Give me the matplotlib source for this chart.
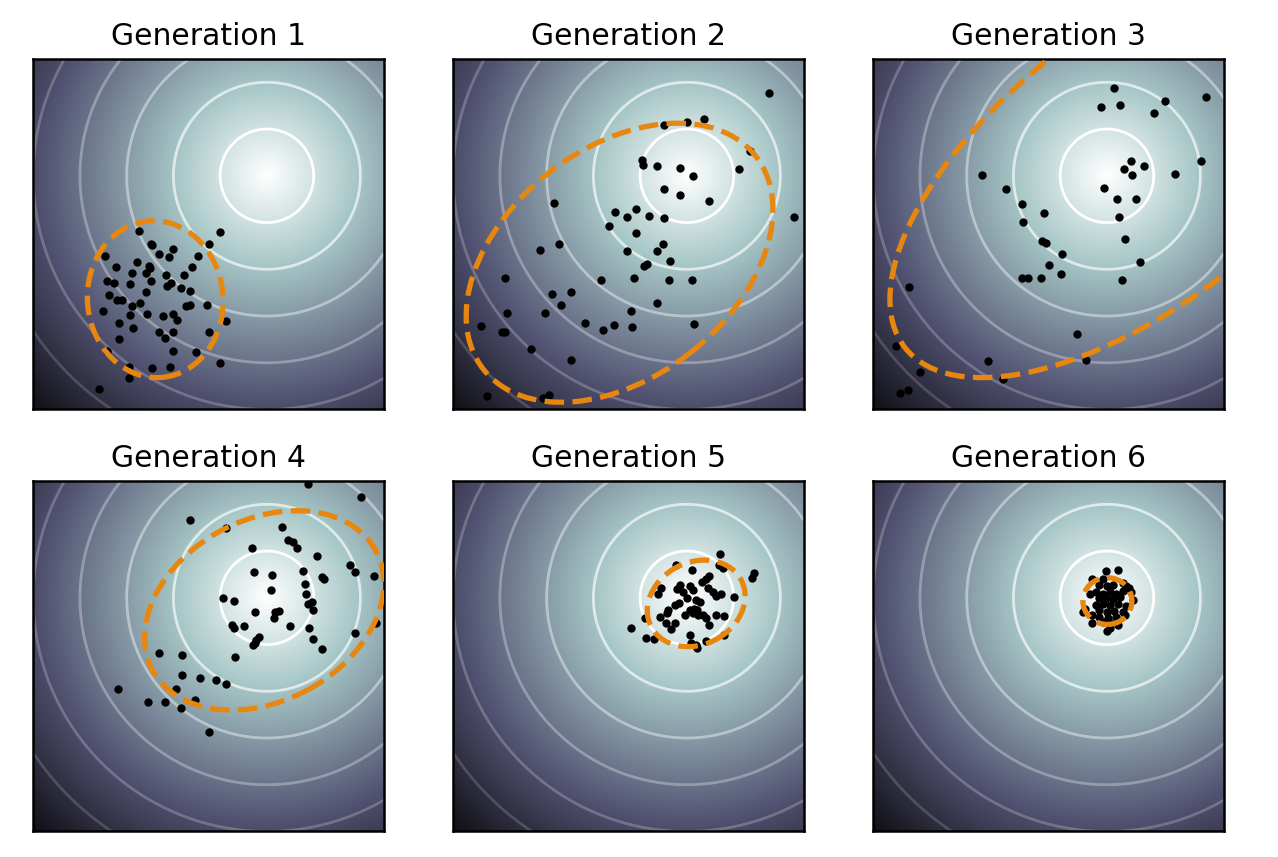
import numpy as np
import matplotlib
matplotlib.use("Agg")
import matplotlib.pyplot as plt
from matplotlib.patches import Ellipse

titles = ["Generation 1", "Generation 2", "Generation 3",
          "Generation 4", "Generation 5", "Generation 6"]

gen1_x = [-2.73, -1.01, -2.49, -2.45, -2.02, -2.30, -2.09, -1.24, -1.48, -3.46, -2.77, -3.24, -2.52, -2.50,
          -1.60, -2.89, -2.59, -2.17, -1.77, -3.43, -3.27, -2.92, -2.49, -2.05, -2.13, -1.84, -1.64, -2.59,
          -3.37, -3.20, -3.11, -2.72, -2.89, -1.73, -1.65, -1.29, -3.51, -2.93, -2.57, -2.22, -2.00, -1.93,
          -0.87, -3.16, -2.87, -2.31, -2.00, -2.19, -1.24, -3.16, -2.02, -1.51, -3.43, -1.01, -2.96, -2.45,
          -2.08, -2.96, -3.60]
gen1_y = [-1.19, -1.21, -1.46, -1.48, -1.56, -1.67, -1.73, -1.47, -1.71, -1.71, -1.85, -1.96, -1.92, -1.97,
          -1.96, -2.09, -2.08, -2.13, -2.13, -2.25, -2.30, -2.32, -2.25, -2.29, -2.36, -2.40, -2.46, -2.49,
          -2.55, -2.65, -2.65, -2.72, -2.79, -2.79, -2.77, -2.76, -2.90, -2.97, -2.95, -3.00, -2.95, -3.09,
          -3.11, -3.14, -3.26, -3.34, -3.34, -3.47, -3.34, -3.50, -3.75, -3.77, -3.75, -4.01, -4.10, -4.12,
          -4.10, -4.32, -4.57]

gen2_x = [1.76, -0.48, 0.00, 0.36, 1.34, -0.95, -0.94, -0.64, -0.14, 0.14, 1.12, -0.48, -0.15, 0.47, -2.84,
          -1.54, -1.08, -1.29, -0.82, -0.50, 2.30, -1.67, -1.08, -2.73, -3.14, -1.29, -0.64, -0.51, -0.92,
          -0.85, -0.36, -3.90, -1.84, -1.14, -0.38, 0.10, -2.89, -2.49, -2.70, -0.64, -3.84, -3.03, -1.20,
          -4.41, -3.96, -3.90, -2.19, -1.79, -1.56, -1.18, 0.16, -3.34, -2.47, -4.28, -3.07, -2.94]
gen2_y = [1.78, 1.09, 1.16, 1.21, 0.52, 0.34, 0.23, 0.21, 0.17, -0.01, 0.14, -0.28, -0.41, -0.53, -0.58,
          -0.77, -0.70, -0.89, -0.86, -0.91, -0.89, -1.08, -1.22, -1.45, -1.59, -1.61, -1.61, -1.47, -1.92,
          -1.89, -1.83, -2.18, -2.23, -2.18, -2.23, -2.23, -2.53, -2.49, -2.76, -2.72, -2.93, -2.93, -2.89,
          -3.21, -3.35, -3.35, -3.14, -3.31, -3.19, -3.24, -3.17, -3.71, -3.94, -4.71, -4.75, -4.68]

gen3_x = [0.16, -0.12, 0.28, 1.24, 1.00, 2.12, 0.52, 0.36, 0.80, 0.54, 1.46, 2.02, -2.68, -0.06, -2.17,
          0.21, 0.63, -1.81, -1.35, -1.79, 0.26, -1.40, -1.31, 0.38, -0.97, -1.24, 0.71, -1.81, -1.69,
          -1.41, -0.99, 0.33, -4.23, -0.64, -4.51, -2.54, -0.44, -3.99, -2.23, -4.42, -4.26]
gen3_y = [1.88, 1.48, 1.51, 1.59, 1.35, 1.68, 0.31, 0.14, 0.21, 0.01, 0.03, 0.31, 0.01, -0.26, -0.28,
          -0.49, -0.49, -0.60, -0.79, -0.98, -0.89, -1.40, -1.43, -1.35, -1.68, -1.90, -1.85, -2.18, -2.19,
          -2.18, -2.10, -2.23, -2.38, -3.38, -3.65, -3.96, -3.94, -4.19, -4.34, -4.65, -4.59]

gen4_x = [0.88, 2.02, -1.65, -0.87, 0.33, 0.45, 0.55, 0.65, -0.31, 1.08, 1.78, 1.88, -0.28, 0.10, 0.77,
          1.18, 1.22, 2.30, 0.82, 0.09, -0.95, -0.71, 0.84, 0.97, 0.88, 0.99, -0.26, 0.18, 0.26, 0.16,
          -0.74, -0.71, -0.50, 0.49, 0.90, 2.33, 1.88, 0.99, -0.16, -0.23, -0.30, -0.25, 1.18, -2.30,
          -1.81, -0.68, -1.81, -1.44, -1.09, -0.87, -3.18, -1.95, -2.54, -2.19, -1.54, -1.84, -1.24]
gen4_y = [2.44, 2.15, 1.66, 1.49, 1.51, 1.24, 1.19, 1.07, 1.07, 0.90, 0.70, 0.55, 0.55, 0.48, 0.58,
          0.45, 0.41, 0.46, 0.30, 0.16, -0.01, -0.06, 0.09, -0.08, -0.14, -0.26, -0.30, -0.30, -0.28, -0.43,
          -0.58, -0.64, -0.61, -0.60, -0.64, -0.55, -0.76, -0.88, -0.83, -0.91, -1.01, -0.97, -1.09, -1.19,
          -1.23, -1.26, -1.66, -1.71, -1.75, -1.84, -1.95, -1.95, -2.22, -2.22, -2.19, -2.36, -2.88]

gen5_x = [0.70, -0.23, 0.11, 0.68, 0.77, 1.44, 1.39, 0.48, 0.41, 0.32, -0.14, 0.07, 0.13, -0.56, -0.62,
          -0.21, -0.09, 0.45, 0.55, 0.73, 0.63, 1.00, 0.00, 0.20, 0.28, -0.17, -0.26, -0.41, -0.43, 0.16,
          0.21, 0.06, -0.05, 0.13, 0.23, 0.34, 0.40, 0.63, 0.80, -0.90, -0.57, -0.44, -0.26, 0.47, -0.35,
          -1.19, 0.06, 0.80, -0.88, -0.71, 0.41, 0.09, 0.20, 0.21]
gen5_y = [0.94, 0.71, 0.59, 0.70, 0.64, 0.52, 0.43, 0.47, 0.41, 0.33, 0.28, 0.26, 0.16, 0.20, 0.09,
          0.18, 0.13, 0.21, 0.13, 0.09, 0.04, 0.02, -0.01, -0.05, -0.10, -0.12, -0.16, -0.26, -0.32, -0.23,
          -0.26, -0.26, -0.37, -0.33, -0.37, -0.36, -0.44, -0.37, -0.38, -0.43, -0.41, -0.53, -0.53, -0.58,
          -0.67, -0.64, -0.80, -0.80, -0.85, -0.88, -0.92, -0.97, -1.01, -1.07]

gen6_x = [-0.03, 0.23, -0.31, -0.09, 0.34, 0.41, 0.47, -0.16, 0.00, 0.13, -0.37, -0.23, -0.09, 0.06, 0.20,
          0.34, 0.52, -0.16, -0.01, 0.13, 0.27, 0.55, -0.23, -0.09, 0.06, 0.23, 0.41, -0.48, -0.51, -0.16,
          0.00, 0.16, 0.34, -0.33, -0.16, 0.02, 0.20, 0.38, -0.31, -0.09, 0.06, 0.23, 0.00, 0.06]
gen6_y = [0.57, 0.60, 0.40, 0.41, 0.32, 0.26, 0.20, 0.28, 0.26, 0.28, 0.09, 0.13, 0.09, 0.13, 0.09,
          0.14, 0.13, -0.01, -0.01, -0.03, 0.01, -0.05, -0.16, -0.14, -0.16, -0.14, -0.17, -0.23, -0.31, -0.26,
          -0.30, -0.28, -0.30, -0.37, -0.41, -0.43, -0.41, -0.37, -0.55, -0.51, -0.55, -0.58, -0.72, -0.65]

# search distribution ellipses: centre x, centre y, width, height, angle (deg)
ell_cx = [-2.39, -1.44, 0.74, -0.06, 0.20, 0.01]
ell_cy = [-2.64, -1.86, 0.28, -0.27, -0.12, -0.07]
ell_w = [2.90, 7.40, 12.85, 5.42, 2.17, 1.05]
ell_h = [3.36, 4.90, 5.95, 3.88, 1.76, 1.00]
ell_angle = [5, 38, 38, 28, 27, 0]

# objective contour levels (distance from optimum) and their opacity
contour_levels = [1, 2, 3, 4, 5, 6]
contour_alpha = [1.0, 0.65, 0.42, 0.3, 0.22, 0.16]

xs_all = [gen1_x, gen2_x, gen3_x, gen4_x, gen5_x, gen6_x]
ys_all = [gen1_y, gen2_y, gen3_y, gen4_y, gen5_y, gen6_y]

lo, hi = -5.0, 2.5
g = np.linspace(lo, hi, 700)
X, Y = np.meshgrid(g, g)
R = np.sqrt(X**2 + Y**2)

fig = plt.figure(figsize=(12.78, 8.57), dpi=100)
lefts = [0.0256, 0.3542, 0.6829]
bottoms = [0.5222, 0.0298]
w, h = 0.2751, 0.409
orange = (0.91, 0.53, 0.06)

for i in range(6):
    r, c = divmod(i, 3)
    ax = fig.add_axes([lefts[c], bottoms[r], w, h])
    ax.imshow(-R, extent=[lo, hi, lo, hi], origin="lower", cmap="bone",
              vmin=-7.6, vmax=0.0, interpolation="bilinear")
    cols = [(1, 1, 1, a) for a in contour_alpha]
    ax.contour(X, Y, R, levels=contour_levels, colors=cols, linewidths=2.0)
    ax.scatter(xs_all[i], ys_all[i], s=36, c="black", zorder=3, linewidths=0)
    e = Ellipse((ell_cx[i], ell_cy[i]), ell_w[i], ell_h[i], angle=ell_angle[i],
                fill=False, edgecolor=orange, linestyle="--", linewidth=3.8, zorder=4)
    ax.add_patch(e)
    ax.set_xlim(lo, hi)
    ax.set_ylim(lo, hi)
    ax.set_xticks([])
    ax.set_yticks([])
    for s in ax.spines.values():
        s.set_linewidth(1.8)
        s.set_color("black")
    ax.set_title(titles[i], fontsize=21.5, pad=10)

fig.savefig("out.png", dpi=100)
